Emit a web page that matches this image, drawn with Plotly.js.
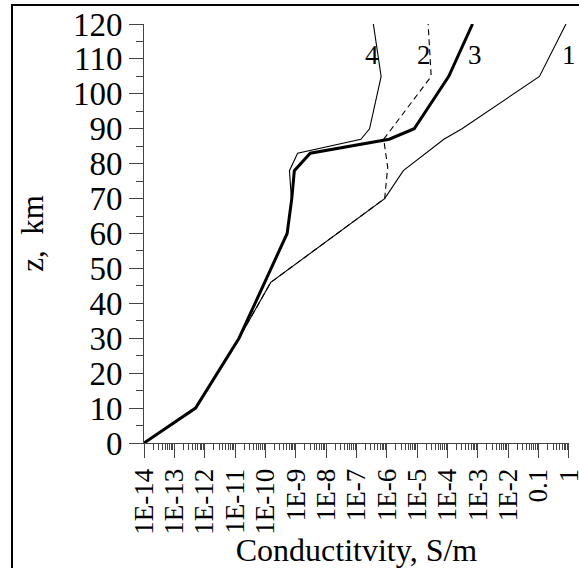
<!DOCTYPE html>
<html>
<head>
<meta charset="utf-8">
<script src="https://cdn.plot.ly/plotly-3.0.1.min.js"></script>
<style>
  html, body { margin: 0; padding: 0; background: #fff; }
  #wrap { position: relative; width: 579px; height: 568px; overflow: hidden; }
  #frame { position: absolute; left: 11px; top: 4px; width: 700px; height: 700px; border: 2px solid #000; box-sizing: border-box; }
  #chart { position: absolute; left: 0; top: 0; width: 579px; height: 568px; }
</style>
</head>
<body>
<div id="wrap">
  <div id="frame"></div>
  <div id="chart"></div>
</div>
<script>
// Altitude, km
const z1 = [0, 10, 30, 46, 70, 78, 87, 90, 105, 120];
const sigma1 = [1e-14, 5e-13, 1.35e-11, 1.5e-10, 8.5e-7, 3.5e-6, 7.6e-5, 3e-4, 0.107, 0.8];

const z2 = [0, 10, 30, 46, 70, 79, 87, 105, 120];
const sigma2 = [1e-14, 5e-13, 1.35e-11, 1.5e-10, 8.5e-7, 1.07e-6, 7.9e-7, 2.9e-5, 2.3e-5];

const z3 = [0, 10, 30, 60, 70, 78, 83, 87, 90, 105, 120];
const sigma3 = [1e-14, 5e-13, 1.35e-11, 5.2e-10, 7.4e-10, 9e-10, 3e-9, 1.2e-6, 8e-6, 1.1e-4, 6.7e-4];

const z4 = [0, 10, 30, 60, 70, 78, 83, 87, 90, 105, 120];
const sigma4 = [1e-14, 5e-13, 1.35e-11, 5.2e-10, 7.2e-10, 6.2e-10, 1.15e-9, 1.4e-7, 2.7e-7, 6.5e-7, 3.6e-7];

const curveLabels = ["1", "2", "3", "4"];

const xTickVals = [1e-14, 1e-13, 1e-12, 1e-11, 1e-10, 1e-9, 1e-8, 1e-7, 1e-6, 1e-5, 1e-4, 1e-3, 1e-2, 0.1, 1];
const xTickText = ["1E-14", "1E-13", "1E-12", "1E-11", "1E-10", "1E-9", "1E-8", "1E-7", "1E-6", "1E-5", "1E-4", "1E-3", "1E-2", "0.1", "1"];

const minorVals = [];
for (let e = -14; e < 0; e++) {
  for (let m = 2; m <= 9; m++) minorVals.push(m * Math.pow(10, e));
}

const font = "Liberation Serif";

const traces = [
  { x: sigma1, y: z1, mode: "lines", line: { color: "#000", width: 1.1 }, name: "1" },
  { x: sigma2, y: z2, mode: "lines", line: { color: "#000", width: 1.1, dash: "6px,4px" }, name: "2" },
  { x: sigma4, y: z4, mode: "lines", line: { color: "#000", width: 1.1 }, name: "4" },
  { x: sigma3, y: z3, mode: "lines", line: { color: "#000", width: 3 }, name: "3" }
];

const labelPos = [
  { x: 0.999, y: 0.927 },
  { x: 0.659, y: 0.927 },
  { x: 0.779, y: 0.927 },
  { x: 0.536, y: 0.927 }
];

const annotations = curveLabels.map((t, i) => ({
  text: t, xref: "paper", yref: "paper", x: labelPos[i].x, y: labelPos[i].y,
  showarrow: false, xanchor: "center", yanchor: "middle",
  font: { family: font, size: 27, color: "#000" }
}));

const layout = {
  width: 579, height: 568,
  margin: { l: 144, r: 10, t: 24, b: 125 },
  paper_bgcolor: "rgba(0,0,0,0)",
  plot_bgcolor: "rgba(0,0,0,0)",
  showlegend: false,
  font: { family: font, color: "#000" },
  xaxis: {
    type: "log",
    range: [-14, 0.003],
    tickmode: "array",
    tickvals: xTickVals,
    ticktext: xTickText,
    tickangle: -90,
    ticklabeloverflow: "allow",
    ticks: "outside", ticklen: 14, tickwidth: 1, tickcolor: "#444",
    showline: true, linecolor: "#444", linewidth: 1,
    showgrid: false, zeroline: false,
    tickfont: { family: font, size: 27, color: "#000" },
    minor: { tickmode: "array", tickvals: minorVals, ticks: "outside", ticklen: 6, tickwidth: 1, tickcolor: "#444", showgrid: false },
    title: { text: "Conductitvity, S/m", font: { family: font, size: 32, color: "#000" }, standoff: 4 }
  },
  yaxis: {
    range: [0, 120],
    tickmode: "linear", tick0: 0, dtick: 10,
    ticks: "outside", ticklen: 14, tickwidth: 1, tickcolor: "#444",
    showline: true, linecolor: "#444", linewidth: 1,
    showgrid: false, zeroline: false,
    tickfont: { family: font, size: 33, color: "#000" },
    minor: { dtick: 5, tick0: 0, ticks: "outside", ticklen: 7, tickwidth: 1, tickcolor: "#444", showgrid: false },
    title: { text: "z,  km", font: { family: font, size: 31, color: "#000" }, standoff: 20 }
  },
  annotations: annotations
};

Plotly.newPlot("chart", traces, layout, { displayModeBar: false, staticPlot: true });
</script>
</body>
</html>
